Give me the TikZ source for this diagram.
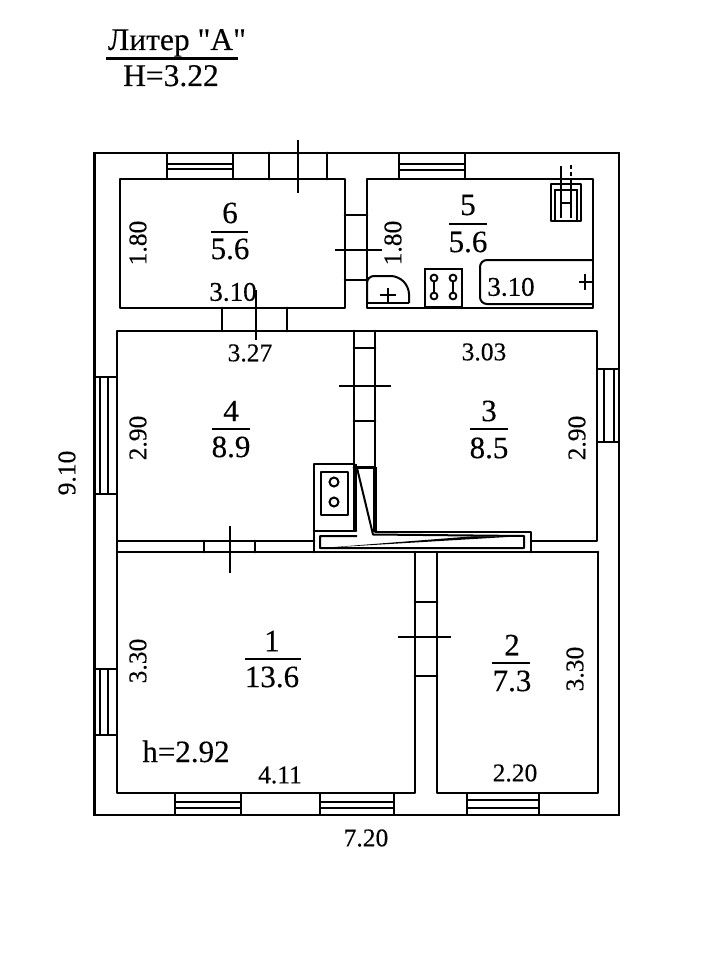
\documentclass[tikz,border=0pt]{standalone}
\usepackage{fontspec}
\setmainfont[FakeBold=0.25]{Liberation Serif}
\newfontfamily\titlefont[FakeBold=0.25]{Liberation Serif}
\tikzset{
  wall/.style={line width=2.7pt,line cap=round,line join=round},
  outerwall/.style={line width=2.6pt,line join=miter},
  thin part/.style={line width=2pt},
  tick/.style={line width=2.2pt},
  big/.style={inner sep=0pt,font=\fontsize{31}{31}\selectfont},
  dim/.style={inner sep=0pt,font=\fontsize{25.5}{26}\selectfont},
  wide dim/.style={inner sep=0pt,font=\fontsize{27}{27}\selectfont},
  vdim/.style={dim,rotate=90},
  fracbar/.style={line width=2.2pt},
  titletext/.style={inner sep=0pt,anchor=base,font=\fontsize{31.5}{32}\titlefont}
}
\begin{document}
\begin{tikzpicture}[x=1pt,y=-1pt]
\useasboundingbox (0,0) rectangle (720,960);
\fill[white] (0,0) rectangle (720,960);
% outer wall
\draw[outerwall] (94.5,153) rectangle (619,815);
% rooms 6 and 5
\draw[wall] (120,179) rectangle (345,308);
\draw[wall] (367,179) rectangle (593,308);
% rooms 4 and 3 outlines
\draw[wall] (354,331) -- (117,331) -- (117,541) -- (314,541);
\draw[wall] (354,331) -- (354,464);
\draw[wall] (375,331) -- (597,331) -- (597,541) -- (531,541);
\draw[wall] (354,331) -- (375,331);
\draw[wall] (375,331) -- (375,532) -- (531,532) -- (531,552);
% rooms 1 and 2
\draw[wall] (117,541) -- (117,793) -- (415,793) -- (415,552);
\draw[wall] (117,552) -- (598,552);
\draw[wall] (437,552) -- (437,793) -- (598,793) -- (598,552);
% windows top
\foreach \a/\b/\c/\d in {167/233/164/169,399/465/164/170}{
  \draw[thin part] (\a,153) -- (\a,179) (\b,153) -- (\b,179) (\a,\c) -- (\b,\c) (\a,\d) -- (\b,\d);
}
% windows bottom
\foreach \a/\b/\c/\d in {175/241/802/808,320/394/802/808,467/539/800/808}{
  \draw[thin part] (\a,793) -- (\a,815) (\b,793) -- (\b,815) (\a,\c) -- (\b,\c) (\a,\d) -- (\b,\d);
}
% windows left
\foreach \a/\b in {377/494,669/735}{
  \draw[thin part] (94.5,\a) -- (117,\a) (94.5,\b) -- (117,\b) (100,\a) -- (100,\b) (108,\a) -- (108,\b);
}
% window right
\draw[thin part] (597,369) -- (619,369) (597,442) -- (619,442) (604,369) -- (604,442) (614,369) -- (614,442);
% doors
\draw[wall] (269,153) -- (269,179) (327,153) -- (327,179);
\draw[tick] (298,140) -- (298,193);
\draw[wall] (345,215) -- (367,215) (345,280) -- (367,280);
\draw[tick] (335,250) -- (382,250);
\draw[wall] (222,308) -- (222,331) (287,308) -- (287,331);
\draw[tick] (256,290) -- (256,340);
\draw[wall] (354,348) -- (375,348) (354,421) -- (375,421);
\draw[tick] (339,386) -- (391,386);
\draw[wall] (204,541) -- (204,552) (255,541) -- (255,552);
\draw[tick] (230,526) -- (230,573);
\draw[wall] (415,602) -- (437,602) (415,676) -- (437,676);
\draw[tick] (398,637) -- (451,637);
% oven
\draw[wall] (314,552) -- (314,464) -- (354,464);
\draw[wall] (354,467.5) -- (375,467.5);
\draw[line width=3.4pt] (355,464) -- (355,531);
\draw[line width=3.6pt] (375,467) -- (375,532);
\draw[wall] (314,531) -- (356,531);
\draw[wall] (321,472) rectangle (348,515);
\draw[line width=2pt] (334,482) circle (4.5);
\draw[line width=2pt] (334,502) circle (4.5);
% flue
\draw[thin part,line join=round] (357,468) -- (373,534.5) -- (524,536) -- (524,548) -- (320,548) -- (320,536) -- (357,536);
\fill (322,548) -- (524,536) -- (470,536.5) -- cycle;
% sink
\draw[thin part,rounded corners=7pt] (367,303) -- (367,276) -- (398,276) -- (409,287) -- (409,303);
\draw[thin part] (409,303) -- (367,303);
\draw[tick] (380,295) -- (396,295) (388,288) -- (388,302);
% cooker
\draw[thin part] (425,269) rectangle (462,307);
\draw[thin part] (434,278) -- (434,296) (453,278) -- (453,296);
\foreach \cx in {434,453}{\foreach \cy in {278,296}{\filldraw[fill=white,line width=1.9pt] (\cx,\cy) circle (3.4);}}
% bath
\draw[thin part,rounded corners=7pt] (593,260) -- (480,260) -- (480,304) -- (593,304);
\draw[tick] (579,282) -- (592,282) (585,274) -- (585,290);
% chimney block
\draw[wall] (551,184) rectangle (581,221);
\draw[thin part] (555,221) -- (555,190) -- (577,190) -- (577,221);
\draw[thin part] (561,166) -- (561,218) (571,178) -- (571,218);
\draw[thin part,dash pattern=on 4pt off 3pt] (571,165) -- (571,178);
\draw[thin part] (561,203) -- (571,203);
% labels: fractions
\node[big] (n6) at (230,213) {6};
\draw[fracbar] (211,232) -- (248,232);
\node[big] (a6) at (230,249) {5.6};
\node[big] (n5) at (468,205) {5};
\draw[fracbar] (449,224) -- (487,224);
\node[big] (a5) at (468,242) {5.6};
\node[big] (n4) at (231,411) {4};
\draw[fracbar] (212,429) -- (250,429);
\node[big] (a4) at (231,447) {8.9};
\node[big] (n3) at (489,411) {3};
\draw[fracbar] (470,429) -- (508,429);
\node[big] (a3) at (489,448) {8.5};
\node[big] (n1) at (272,641) {1};
\draw[fracbar] (245,659) -- (301,659);
\node[big] (a1) at (272,677) {13.6};
\node[big] (n2) at (512,645) {2};
\draw[fracbar] (492,663) -- (530,663);
\node[big] (a2) at (512,681) {7.3};
% dimensions
\node[vdim] (d1) at (138,243) {1.80};
\node[vdim] (d2) at (393,243) {1.80};
\node[wide dim] (d3) at (233,292) {3.10};
\node[wide dim] (d4) at (511,287) {3.10};
\node[dim] (d5) at (250,353) {3.27};
\node[dim] (d6) at (484,352) {3.03};
\node[vdim] (d7) at (138,438) {2.90};
\node[vdim] (d8) at (577,438) {2.90};
\node[vdim] (d9) at (67,473) {9.10};
\node[vdim] (d10) at (138,661) {3.30};
\node[vdim] (d11) at (575,669) {3.30};
\node[dim] (d12) at (280,775) {4.11};
\node[dim] (d13) at (515,773) {2.20};
\node[dim] (d14) at (366,838) {7.20};
\node[big,anchor=base] (h) at (186,762) {h=2.92};
% title
\node[titletext] (t1) at (177,50) {Литер "А"};
\draw[fracbar] (106,58.5) -- (238,58.5);
\node[titletext] (t2) at (171,86) {H=3.22};
\end{tikzpicture}
\end{document}
